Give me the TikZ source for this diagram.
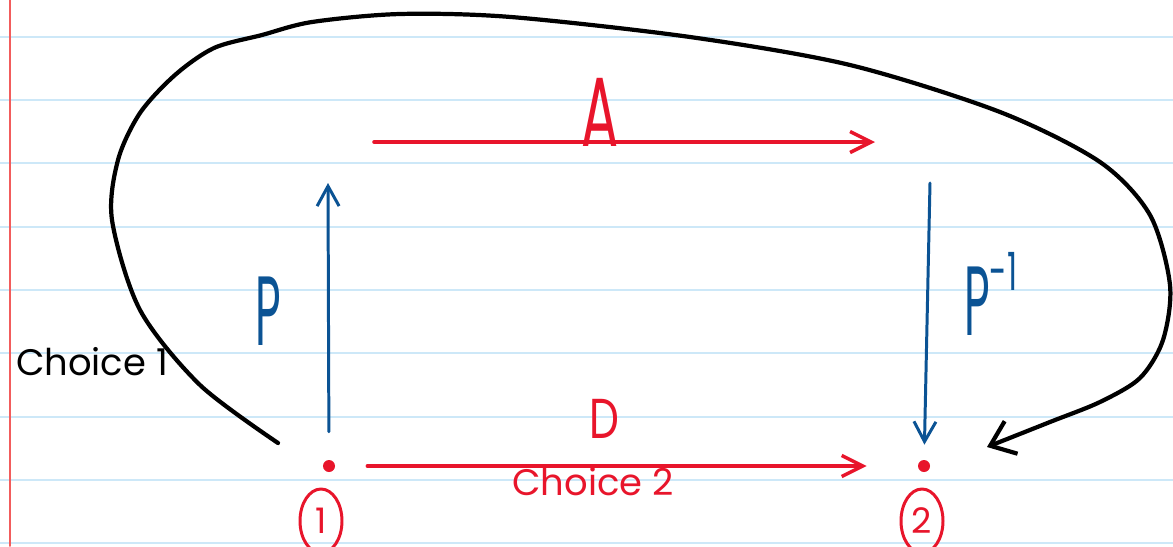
\documentclass[tikz,border=0pt]{standalone}
\usepackage{fontspec}
\usepackage{graphicx}
\setmainfont{Poppins}
\usetikzlibrary{arrows.meta, shapes.geometric}
\definecolor{pen}{HTML}{E8152B}
\definecolor{ink}{HTML}{0B5394}
\definecolor{ruleblue}{HTML}{CDE8F8}
\definecolor{marginred}{HTML}{F25C5C}
\newcommand\slim[2]{\scalebox{#1}[1]{#2}}

\begin{document}
\begin{tikzpicture}[x=0.2mm, y=-0.2mm, line cap=round, line join=round,
  redarr/.style={-{Straight Barb[length=4.2mm, width=4.2mm]}, line width=2pt, pen},
  bluearr/.style={-{Straight Barb[length=4mm, width=4.4mm]}, line width=1.7pt, ink},
  looparr/.style={-{Straight Barb[length=4.5mm, width=7mm]}, line width=2.4pt, black},
  dot/.style={circle, fill=pen, inner sep=0pt, minimum size=2.4mm},
  num/.style={ellipse, draw=pen, line width=1.7pt, text=pen, inner sep=0pt,
              minimum width=8.4mm, minimum height=12.8mm, font=\fontsize{20}{20}\selectfont},
  big/.style={font=\fontsize{56}{56}\selectfont},
  note/.style={font=\fontsize{21}{21}\selectfont}]
  \useasboundingbox (0,0) rectangle (1173,546);
  \clip (0,0) rectangle (1173,546);
  \fill[white] (0,0) rectangle (1173,546);
  \foreach \k in {0,...,8}
    \draw[ruleblue, line width=1.1pt] (0,{36.67+63.33*\k}) -- (1173,{36.67+63.33*\k});
  \draw[marginred, line width=1.1pt] (10,0) -- (10,546);

  \node[dot] (pt1) at (329,466) {};
  \node[dot] (pt2) at (924,466) {};
  \node[num] (n1) at (321,521) {1};
  \node[num] (n2) at (922,521) {2};
  \node[big, pen] (lblA) at (600,112) {\slim{0.56}{A}};
  \node[font=\fontsize{32}{32}\selectfont, pen] (lblD) at (604,419) {\slim{0.75}{D}};
  \node[note, pen] (ch2) at (593,482) {Choice 2};
  \node[note] (ch1) at (92,362) {Choice 1};
  \node[big, ink] (lblP) at (268,311) {\slim{0.45}{P}};
  \node[big, ink, anchor=west] (lblPinv) at (958,294)
    {\slim{0.45}{P}\raisebox{0.45em}{\fontsize{30}{30}\selectfont\slim{0.6}{-1}}};

  \coordinate (aL) at (374,142);
  \coordinate (aR) at (875,142);
  \coordinate (pTop) at (328,183);
  \coordinate (qTop) at (930,183);
  \coordinate (loopS) at (278,443);
  \coordinate (loopE) at (987,447);

  \draw[redarr] (aL) -- (aR);
  \draw[redarr, shorten <=6.4mm, shorten >=10.2mm] (pt1) -- (pt2);
  \draw[bluearr, shorten <=5.6mm] (pt1) -- (pTop);
  \draw[bluearr, shorten >=3mm] (qTop) -- (pt2);
  \draw[looparr] plot[smooth, tension=0.5] coordinates {(loopS) (200,385)
    (140,310) (112,220) (118,160) (140,113) (175,75) (214,48) (262,35) (312,22)
    (400,14) (511,17) (690,37) (850,65) (1000,112) (1100,162) (1150,215)
    (1170,285) (1163,340) (1140,378) (1100,402) (1050,422) (loopE)};
\end{tikzpicture}
\end{document}
